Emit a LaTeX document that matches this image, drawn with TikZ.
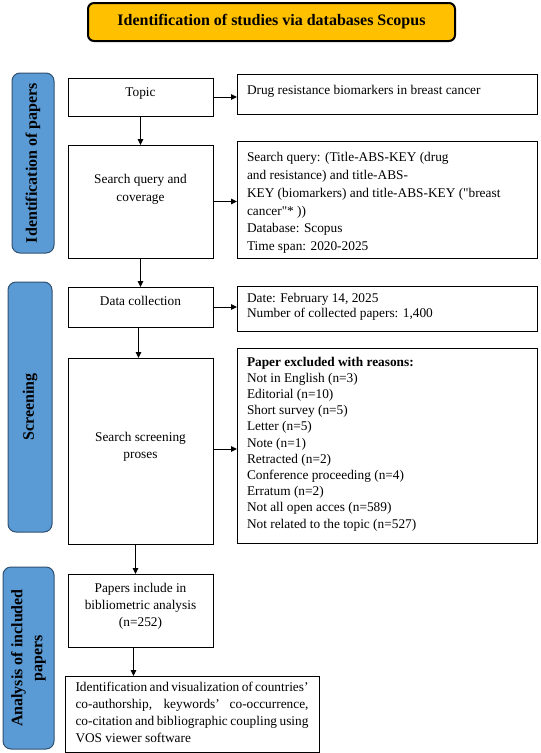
\documentclass[tikz,border=0pt]{standalone}
\usepackage{fontspec}
\setmainfont{Liberation Serif}[Ligatures=TeXOff]
\usetikzlibrary{arrows.meta}
\definecolor{titleorange}{HTML}{FFC000}
\definecolor{barblue}{HTML}{5B9BD5}
\definecolor{barborder}{HTML}{2F5070}
\newcommand\bxt[5]{\parbox[c][#2pt][t]{#1pt}{\fontsize{13.33}{#4}\selectfont\vspace*{#3pt}#5}}
\begin{document}
\begin{tikzpicture}[x=1pt,y=-1pt,
  box/.style={draw, line width=1pt, inner ysep=0pt, outer sep=0pt, anchor=north west},
  lbox/.style={box, inner xsep=0pt},
  rbox/.style={box, inner xsep=10pt},
  bar/.style={draw=barborder, line width=1pt, fill=barblue, rounded corners=8pt, rotate=90,
    font=\fontsize{16}{20}\selectfont\bfseries, align=center, inner sep=0pt},
  arr/.style={line width=1pt, -{Triangle[length=6pt,width=5.5pt]}}]
\useasboundingbox (0,0) rectangle (541,753);

% title
\node[draw, line width=2pt, fill=titleorange, rounded corners=6pt, minimum width=367pt, minimum height=38pt,
  font=\fontsize{16}{19}\selectfont\bfseries] (title) at (271.5,22) {Identification of studies via databases Scopus};

% side bars
\node[bar, minimum width=180pt, minimum height=42pt] (idbar) at (33,163) {Identification of papers};
\node[bar, minimum width=250pt, minimum height=44pt] (scbar) at (30,407) {Screening};
\node[bar, minimum width=182pt, minimum height=51pt] (anbar) at (28.5,658) {Analysis of included\\papers};

% left column
\node[lbox] (topic) at (68,78) {\bxt{145}{38}{6.1}{17}{\centering\strut Topic}};
\node[lbox] (search) at (68,145) {\bxt{145}{113}{25.4}{18}{\centering\strut Search query and\\ coverage}};
\node[lbox] (data) at (68,287) {\bxt{145}{40}{6.1}{17}{\centering\strut Data collection}};
\node[lbox] (screen) at (68,358) {\bxt{145}{186}{71.1}{17}{\centering\strut Search screening\\ proses}};
\node[lbox] (papers) at (68,574) {\bxt{145}{73}{6.1}{17}{\centering\strut Papers include in\\ bibliometric analysis\\ (n=252)}};
\node[box, inner xsep=10.5pt] (final) at (65,676) {\bxt{233}{76}{3.1}{17}{\strut Identification and visualization of countries’\linebreak co-authorship, keywords’ co-occurrence,\linebreak co-citation and bibliographic coupling using\linebreak VOS viewer software}};

% right column
\node[rbox] (drug) at (237,74) {\bxt{280}{40}{8.8}{16}{\raggedright\strut Drug resistance biomarkers in breast cancer}};
\node[rbox] (query) at (237,141) {\bxt{280}{117}{8.6}{17.7}{\raggedright\strut Search query: (Title-ABS-KEY (drug\\ and resistance) and title-ABS-\\ KEY (biomarkers) and title-ABS-KEY ("breast\\ cancer"* ))\\ Database: Scopus\\ Time span: 2020-2025}};
\node[rbox] (date) at (237,286) {\bxt{280}{45}{5.5}{15}{\raggedright\strut Date: February 14, 2025\\ Number of collected papers: 1,400}};
\node[rbox] (excl) at (237,348) {\bxt{280}{195}{6.7}{16.2}{\raggedright\strut\textbf{Paper excluded with reasons:}\\ Not in English (n=3)\\ Editorial (n=10)\\ Short survey (n=5)\\ Letter (n=5)\\ Note (n=1)\\ Retracted (n=2)\\ Conference proceeding (n=4)\\ Erratum (n=2)\\ Not all open acces (n=589)\\ Not related to the topic (n=527)}};

% horizontal arrows
\draw[arr] (topic.east) -- (topic.east -| drug.west);
\draw[arr] (search.east) -- (search.east -| query.west);
\draw[arr] (data.east) -- (data.east -| date.west);
\draw[arr] ([yshift=2pt]screen.east) -- ([yshift=2pt]screen.east -| excl.west);

% vertical arrows
\draw[arr] (topic.south) -- (topic.south |- search.north);
\draw[arr] (search.south) -- (search.south |- data.north);
\draw[arr] ([xshift=-2pt]data.south) -- ([xshift=-2pt]data.south |- screen.north);
\draw[arr] ([xshift=-5pt]screen.south) -- ([xshift=-5pt]screen.south |- papers.north);
\draw[arr] ([xshift=-7pt]papers.south) -- ([xshift=-7pt]papers.south |- final.north);
\end{tikzpicture}
\end{document}
